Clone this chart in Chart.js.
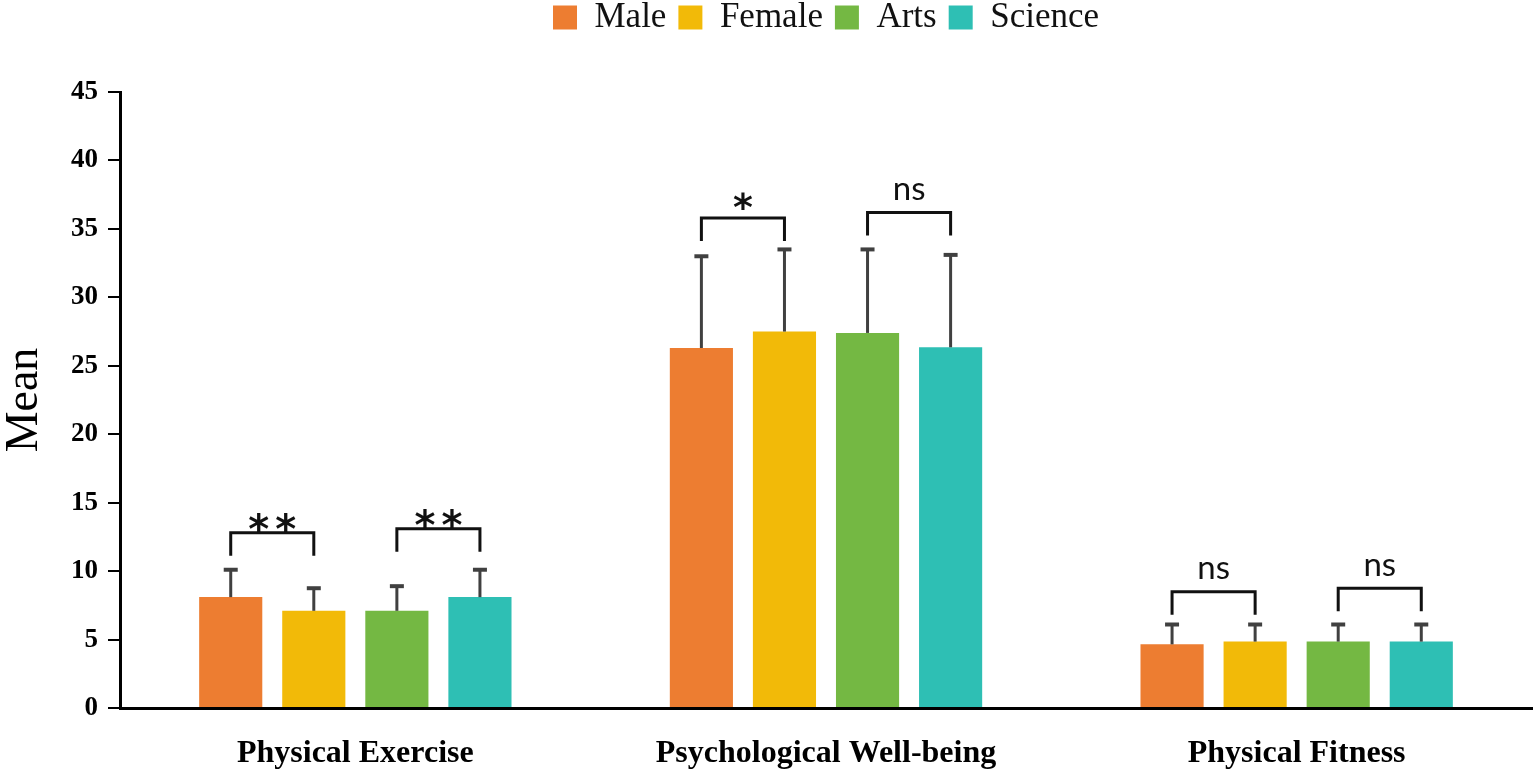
<!DOCTYPE html>
<html>
<head>
<meta charset="utf-8">
<title>Mean by group</title>
<script src="https://cdn.jsdelivr.net/npm/chart.js@4"></script>
<style>
  html, body { margin: 0; padding: 0; background: #fff; }
  #wrap { width: 1535px; height: 775px; position: relative; }
</style>
</head>
<body>
<div id="wrap"><canvas id="chart"></canvas></div>
<script>
// ── Data ───────────────────────────────────────────────────────────
const categories = ['Physical Exercise', 'Psychological Well-being', 'Physical Fitness'];
const seriesNames = ['Male', 'Female', 'Arts', 'Science'];

const maleMean = [8.1, 26.3, 4.65];
const femaleMean = [7.1, 27.5, 4.85];
const artsMean = [7.1, 27.4, 4.85];
const scienceMean = [8.1, 26.35, 4.85];

// upper error bar length (SD)
const maleSd = [2.0, 6.7, 1.45];
const femaleSd = [1.65, 6.0, 1.25];
const artsSd = [1.8, 6.1, 1.25];
const scienceSd = [2.0, 6.75, 1.25];

const yTicks = [0, 5, 10, 15, 20, 25, 30, 35, 40, 45];

// significance brackets
const sigCategory = [0, 0, 1, 1, 2, 2];
const sigFrom = [0, 2, 0, 2, 0, 2];
const sigTo = [1, 3, 1, 3, 1, 3];
const sigLevel = [12.8, 13.1, 35.8, 36.2, 8.5, 8.75];
const sigLabels = ['**', '**', '*', 'ns', 'ns', 'ns'];

// ── Style ──────────────────────────────────────────────────────────
const colors = ['#ED7D31', '#F2BA08', '#74B843', '#2EBFB4'];
const SERIF = '"Liberation Serif", "Times New Roman", serif';
const LEG_LEN = 23;
const STAR_STEP = 27;
const labelStyle = {
  '**': { font: 'bold 40px "DejaVu Sans", sans-serif', gap: 11 },
  '*': { font: 'bold 38px "DejaVu Sans", sans-serif', gap: 17 },
  'ns': { font: '33px Lato, sans-serif', gap: 21 },
};

const means = [maleMean, femaleMean, artsMean, scienceMean];
const sds = [maleSd, femaleSd, artsSd, scienceSd];

// error bars + brackets, placed through the chart scales
const annotatePlugin = {
  id: 'annotate',
  afterLayout(chart) {
    // centre the legend over the plot area like the original
    const lg = chart.legend, ca = chart.chartArea;
    if (!lg) return;
    lg.left = ca.left; lg.right = ca.right; lg.width = ca.right - ca.left;
    lg.top = -12; lg.bottom = lg.top + lg.height;
  },
  afterDatasetsDraw(chart) {
    const { ctx, scales: { y } } = chart;
    ctx.save();
    // error bars
    ctx.strokeStyle = '#404040';
    ctx.lineCap = 'butt';
    chart.data.datasets.forEach((ds, di) => {
      const meta = chart.getDatasetMeta(di);
      meta.data.forEach((bar, i) => {
        const top = y.getPixelForValue(ds.data[i] + ds.sd[i]);
        ctx.lineWidth = 3;
        ctx.beginPath();
        ctx.moveTo(bar.x, bar.y);
        ctx.lineTo(bar.x, top);
        ctx.stroke();
        ctx.lineWidth = 4;
        ctx.beginPath();
        ctx.moveTo(bar.x - 7, top);
        ctx.lineTo(bar.x + 7, top);
        ctx.stroke();
      });
    });
    // brackets
    ctx.strokeStyle = '#111';
    ctx.fillStyle = '#111';
    ctx.lineWidth = 3;
    ctx.lineJoin = 'miter';
    sigLabels.forEach((label, k) => {
      const x1 = chart.getDatasetMeta(sigFrom[k]).data[sigCategory[k]].x;
      const x2 = chart.getDatasetMeta(sigTo[k]).data[sigCategory[k]].x;
      const yt = y.getPixelForValue(sigLevel[k]);
      ctx.beginPath();
      ctx.moveTo(x1, yt + LEG_LEN);
      ctx.lineTo(x1, yt);
      ctx.lineTo(x2, yt);
      ctx.lineTo(x2, yt + LEG_LEN);
      ctx.stroke();

      const st = labelStyle[label];
      ctx.font = st.font;
      ctx.textAlign = 'center';
      ctx.textBaseline = 'alphabetic';
      const cx = (x1 + x2) / 2;
      const cy = yt - st.gap;
      const parts = label.startsWith('*') ? label.split('') : [label];
      parts.forEach((p, j) => {
        const m = ctx.measureText(p);
        const base = cy + (m.actualBoundingBoxAscent - m.actualBoundingBoxDescent) / 2;
        const px = cx + (j - (parts.length - 1) / 2) * STAR_STEP;
        ctx.fillText(p, px, base);
      });
    });
    ctx.restore();
  },
};

const datasets = seriesNames.map((name, i) => ({
  label: name,
  data: means[i],
  sd: sds[i],
  backgroundColor: colors[i],
  borderWidth: 0,
  categoryPercentage: 0.706,
  barPercentage: 0.76,
}));

new Chart(document.getElementById('chart'), {
  type: 'bar',
  data: { labels: categories, datasets },
  plugins: [annotatePlugin],
  options: {
    responsive: true, maintainAspectRatio: false, animation: false,
    layout: { padding: { top: 35, right: 3, bottom: 0, left: 0 } },
    plugins: {
      legend: {
        display: true, position: 'top',
        labels: { color: '#111', font: { family: SERIF, size: 35 }, boxWidth: 24, boxHeight: 24, padding: 12 },
      },
      tooltip: { enabled: false },
    },
    scales: {
      x: {
        grid: { display: false },
        border: { display: true, color: '#000', width: 3 },
        ticks: { color: '#000', font: { family: SERIF, size: 32, weight: 'bold' }, padding: 19 },
        afterFit: s => { s.height = 67; },
      },
      y: {
        min: 0, max: 45,
        afterBuildTicks: s => { s.ticks = yTicks.map(v => ({ value: v })); },
        grid: { display: true, drawOnChartArea: false, drawTicks: true, tickLength: 12, color: '#000', lineWidth: 2 },
        border: { display: true, color: '#000', width: 3 },
        ticks: { color: '#000', font: { family: SERIF, size: 27, weight: 'bold' }, padding: 10 },
        title: { display: true, text: 'Mean', color: '#000', font: { family: SERIF, size: 46, lineHeight: 1.1 }, padding: 0 },
        afterFit: s => { s.width = 120; },
      },
    },
  },
});
</script>
</body>
</html>
